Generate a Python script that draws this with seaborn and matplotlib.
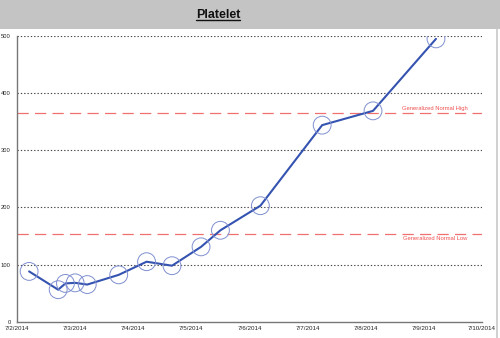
import pandas as pd
import numpy as np
import matplotlib
matplotlib.use("Agg")
import matplotlib.pyplot as plt
import matplotlib.dates as mdates
from matplotlib.patches import Rectangle
from matplotlib.lines import Line2D
import seaborn as sns

# Platelet counts over time
times = [
    "2014-07-02 05:00", "2014-07-02 17:00", "2014-07-02 20:00", "2014-07-03 00:00",
    "2014-07-03 05:00", "2014-07-03 18:00", "2014-07-04 05:30", "2014-07-04 16:00",
    "2014-07-05 04:00", "2014-07-05 12:00", "2014-07-06 04:30", "2014-07-07 06:00",
    "2014-07-08 03:00", "2014-07-09 05:00",
]
platelet = [88, 56, 67, 68, 65, 82, 105, 98, 131, 160, 203, 344, 369, 495]

normal_low = 153
normal_high = 366
y_ticks = [0, 100, 200, 300, 400, 500]
x_ticks = pd.date_range("2014-07-02", "2014-07-10", freq="D")

df = pd.DataFrame({"time": pd.to_datetime(times), "platelet": platelet})

sns.set_style("white")
plt.rcParams["font.family"] = ["Liberation Sans", "DejaVu Sans"]

fig = plt.figure(figsize=(5.0, 3.38), dpi=100)
W, H = 500, 338

# header band
fig.patches.append(Rectangle((0, 1 - 29 / H), 1, 29 / H, transform=fig.transFigure,
                             facecolor="#c4c4c4", edgecolor="none", zorder=0))
# right border
fig.add_artist(Line2D([497 / W, 497 / W], [0, 1 - 29 / H], transform=fig.transFigure,
                      color="#c8c8c8", lw=1.2))

ax = fig.add_axes([17 / W, 16.3 / H, 465 / W, 285.7 / H])
ax.set_facecolor("white")

for v in y_ticks[1:]:
    ax.axhline(v, color="#444444", lw=0.8, ls=(0, (1.2, 1.8)), zorder=1)

for v in (normal_low, normal_high):
    ax.axhline(v, color="#f07070", lw=0.9, ls=(0, (9, 5)), zorder=1)

sns.lineplot(data=df, x="time", y="platelet", ax=ax, color="#3553b0", lw=1.5,
             zorder=3, estimator=None)
sns.scatterplot(data=df, x="time", y="platelet", ax=ax, s=165, facecolor="none",
                edgecolor="#7f8fd0", linewidth=0.7, zorder=4)

label_x = mdates.date2num(pd.Timestamp("2014-07-09 18:00"))
ax.text(label_x, normal_high + 3, "Generalized Normal High", color="#f05050",
        fontsize=4.2, ha="right", va="bottom")
ax.text(label_x, normal_low - 3, "Generalized Normal Low", color="#f05050",
        fontsize=4.2, ha="right", va="top")

ax.set_xlim(x_ticks[0], x_ticks[-1])
ax.set_ylim(0, 500)
ax.set_xticks(x_ticks)
ax.set_xticklabels([f"{d.month}/{d.day}/{d.year}" for d in x_ticks])
ax.set_yticks(y_ticks)
ax.set_yticklabels([str(v) for v in y_ticks])
ax.set_xlabel("")
ax.set_ylabel("")

ax.tick_params(axis="x", direction="in", length=5, width=0.8, color="#444444",
               labelsize=4.5, pad=3)
ax.tick_params(axis="y", direction="out", length=4.2, width=0.8, color="#444444",
               labelsize=4.2, pad=0.3)
ax.yaxis.get_major_ticks()[0].tick1line.set_visible(False)

for s in ("top", "right"):
    ax.spines[s].set_visible(False)
for s in ("left", "bottom"):
    ax.spines[s].set_color("#777777")
    ax.spines[s].set_linewidth(1.0)

# title with underline
t = fig.text(218 / W, 1 - 15 / H, "Platelet", fontsize=9, fontweight="bold",
             ha="center", va="center", color="#111111")
fig.canvas.draw()
bb = t.get_window_extent().transformed(fig.transFigure.inverted())
fig.add_artist(Line2D([bb.x0, bb.x1], [bb.y0 + 0.004, bb.y0 + 0.004],
                      transform=fig.transFigure, color="#111111", lw=1.0))

fig.savefig("out.png", dpi=100)
